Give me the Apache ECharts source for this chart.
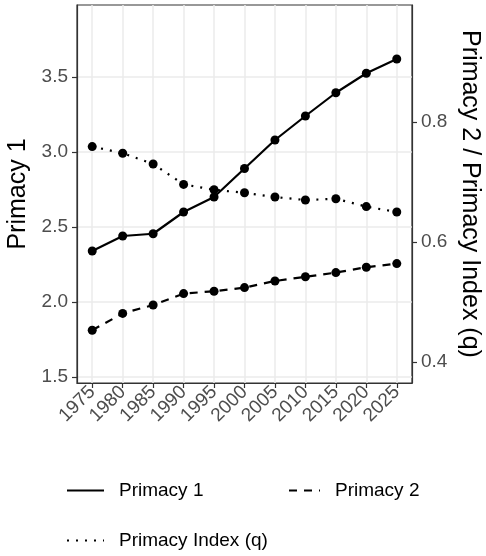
<!DOCTYPE html>
<html>
<head>
<meta charset="utf-8">
<script src="https://cdn.jsdelivr.net/npm/echarts@6/dist/echarts.min.js"></script>
<style>
  html, body { margin: 0; padding: 0; background: #fff; }
  #main { width: 486px; height: 556px; }
</style>
</head>
<body>
<div id="main"></div>
<script>
// data
var years = [1975, 1980, 1985, 1990, 1995, 2000, 2005, 2010, 2015, 2020, 2025];
var primacy1 = [2.34, 2.44, 2.455, 2.60, 2.70, 2.89, 3.08, 3.24, 3.395, 3.525, 3.62];
var primacy2 = [0.453, 0.481, 0.495, 0.514, 0.518, 0.524, 0.535, 0.542, 0.549, 0.558, 0.564];
var primacyQ = [0.759, 0.748, 0.730, 0.696, 0.687, 0.682, 0.675, 0.670, 0.672, 0.659, 0.650];
var leftTicks = [1.5, 2.0, 2.5, 3.0, 3.5];
var rightTicks = [0.4, 0.6, 0.8];

function pairs(vals) {
  return years.map(function (y, i) { return [y, vals[i]]; });
}

var chart = echarts.init(document.getElementById('main'));

var FONT = '"Liberation Sans", Arial, sans-serif';
var labelStyle = { color: '#4d4d4d', fontSize: 19, fontFamily: FONT };
var tickStyle = { show: true, length: 5, lineStyle: { color: '#333', width: 1.2 } };
var titleStyle = { fontSize: 25, color: '#000', fontFamily: FONT };
var legendText = { fontSize: 19, color: '#000', fontFamily: FONT, padding: [0, 0, 0, 10] };

var option = {
  animation: false,
  backgroundColor: '#fff',
  grid: {
    left: 77, right: 74, top: 5, bottom: 173,
    outerBoundsMode: 'none',
    show: true, borderColor: '#333', borderWidth: 1.2
  },
  xAxis: {
    type: 'value',
    min: 1972.5, max: 2027.5,
    axisLine: { show: true, onZero: false, lineStyle: { color: '#333', width: 1.2 } },
    axisTick: Object.assign({ customValues: years }, tickStyle),
    axisLabel: Object.assign({
      customValues: years, rotate: 45, margin: 6,
      formatter: function (v) { return String(v); }
    }, labelStyle),
    splitLine: { show: true, lineStyle: { color: '#ebebeb', width: 1.5 } }
  },
  yAxis: [
    {
      type: 'value',
      min: 1.46, max: 3.98,
      name: 'Primacy 1', nameLocation: 'middle', nameGap: 46,
      nameMoveOverlap: false,
      nameTextStyle: titleStyle,
      axisLine: { show: true, lineStyle: { color: '#333', width: 1.2 } },
      axisTick: Object.assign({ customValues: leftTicks }, tickStyle),
      axisLabel: Object.assign({
        customValues: leftTicks, margin: 9,
        formatter: function (v) { return v.toFixed(1); }
      }, labelStyle),
      splitLine: { show: true, lineStyle: { color: '#ebebeb', width: 1.5 } }
    },
    {
      type: 'value',
      min: 0.365, max: 0.995,
      position: 'right',
      name: 'Primacy 2 / Primacy Index (q)', nameLocation: 'middle', nameGap: 45,
      nameRotate: -90,
      nameMoveOverlap: false,
      nameTextStyle: titleStyle,
      axisLine: { show: true, lineStyle: { color: '#333', width: 1.2 } },
      axisTick: Object.assign({ customValues: rightTicks }, tickStyle),
      axisLabel: Object.assign({
        customValues: rightTicks, margin: 9,
        formatter: function (v) { return v.toFixed(1); }
      }, labelStyle),
      splitLine: { show: false }
    }
  ],
  legend: [
    {
      left: 61, top: 476, itemWidth: 37, itemHeight: 20,
      data: ['Primacy 1'],
      itemStyle: { opacity: 0 },
      textStyle: legendText
    },
    {
      left: 283, top: 476, itemWidth: 31, itemHeight: 20,
      data: ['Primacy 2'],
      itemStyle: { opacity: 0 },
      textStyle: legendText
    },
    {
      left: 61, top: 526, itemWidth: 37, itemHeight: 20,
      data: ['Primacy Index (q)'],
      itemStyle: { opacity: 0 },
      textStyle: legendText
    }
  ],
  series: [
    {
      name: 'Primacy 1', type: 'line', yAxisIndex: 0,
      data: pairs(primacy1),
      symbol: 'circle', symbolSize: 9,
      itemStyle: { color: '#000' },
      lineStyle: { color: '#000', width: 2.2 }
    },
    {
      name: 'Primacy 2', type: 'line', yAxisIndex: 1,
      data: pairs(primacy2),
      symbol: 'circle', symbolSize: 9,
      itemStyle: { color: '#000' },
      lineStyle: { color: '#000', width: 2.2, type: [8, 7] }
    },
    {
      name: 'Primacy Index (q)', type: 'line', yAxisIndex: 1,
      data: pairs(primacyQ),
      symbol: 'circle', symbolSize: 9,
      itemStyle: { color: '#000' },
      lineStyle: { color: '#000', width: 2.2, type: [2, 7] }
    }
  ]
};

chart.setOption(option);
</script>
</body>
</html>
